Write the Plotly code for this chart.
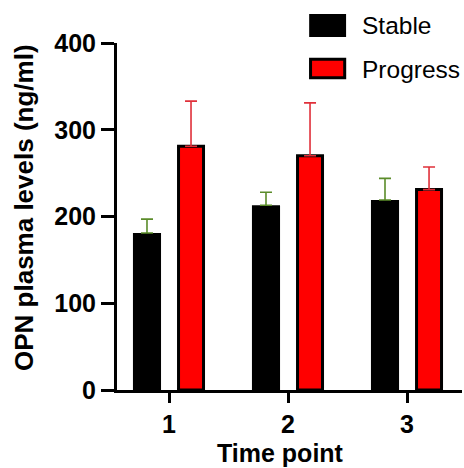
import plotly.graph_objects as go

# ---- data ----
time_points = [1, 2, 3]
tick_labels = ["1", "2", "3"]
series_names = ["Stable", "Progress"]
stable_mean = [181, 213, 219]
stable_err = [16, 15, 25]
progress_mean = [281, 270, 231]
progress_err = [52, 61, 26]
y_ticks = [0, 100, 200, 300, 400]

FONT = "Liberation Sans, Arial, sans-serif"

fig = go.Figure()
fig.add_trace(go.Bar(
    x=time_points, y=stable_mean, name=series_names[0],
    offset=-0.303, width=0.236,
    marker=dict(color="#000000", line=dict(width=0)),
    error_y=dict(type="data", array=stable_err, arrayminus=[0]*3, symmetric=False,
                 color="#5b8c2a", thickness=1.6, width=6),
    showlegend=False,
))
fig.add_trace(go.Bar(
    x=time_points, y=progress_mean, name=series_names[1],
    offset=0.080, width=0.210,
    marker=dict(color="#ff0000", line=dict(color="#000000", width=3)),
    error_y=dict(type="data", array=progress_err, arrayminus=[0]*3, symmetric=False,
                 color="#e0303a", thickness=1.6, width=6),
    showlegend=False,
))

# legend drawn as boxes + labels
fig.add_shape(type="rect", xref="paper", yref="paper",
              x0=0.557, x1=0.664, y0=1.0173, y1=1.0836,
              fillcolor="#000000", line=dict(color="#000000", width=0))
fig.add_shape(type="rect", xref="paper", yref="paper",
              x0=0.561, x1=0.660, y0=0.900, y1=0.953,
              fillcolor="#ff0000", line=dict(color="#000000", width=3))
for name, yy in zip(series_names, [1.049, 0.925]):
    fig.add_annotation(text=name, xref="paper", yref="paper", x=0.703, y=yy,
                       xanchor="left", yanchor="middle", showarrow=False,
                       font=dict(family=FONT, size=24.5, color="#000000"))

# axis titles
fig.add_annotation(text="<b>Time point</b>", xref="paper", yref="paper",
                   x=(280-117)/345, y=(390-453)/347, xanchor="center", yanchor="middle",
                   showarrow=False, font=dict(family=FONT, size=25, color="#000000"))
fig.add_annotation(text="<b>OPN plasma levels (ng/ml)</b>", xref="paper", yref="paper",
                   x=(24-117)/345, y=(390-208)/347, xanchor="center", yanchor="middle",
                   textangle=-90, showarrow=False,
                   font=dict(family=FONT, size=26, color="#000000"))

fig.update_layout(
    width=464, height=468,
    margin=dict(l=117, r=2, t=43, b=78),
    paper_bgcolor="#ffffff", plot_bgcolor="#ffffff",
    barmode="overlay",
    font=dict(family=FONT, color="#000000"),
)
fig.update_xaxes(
    range=[0.563, 3.462], tickvals=time_points, ticktext=tick_labels,
    showline=True, linecolor="#000000", linewidth=3,
    ticks="outside", ticklen=10, tickwidth=3, tickcolor="#000000",
    showgrid=False, zeroline=False,
    tickfont=dict(family=FONT, size=25, color="#000000", weight="bold"),
)
fig.update_yaxes(
    range=[0, 400], tickvals=y_ticks,
    showline=True, linecolor="#000000", linewidth=3,
    ticks="outside", ticklen=13, tickwidth=3, tickcolor="#000000",
    showgrid=False, zeroline=False,
    tickfont=dict(family=FONT, size=25, color="#000000", weight="bold"),
)

fig.write_html("out.html")
